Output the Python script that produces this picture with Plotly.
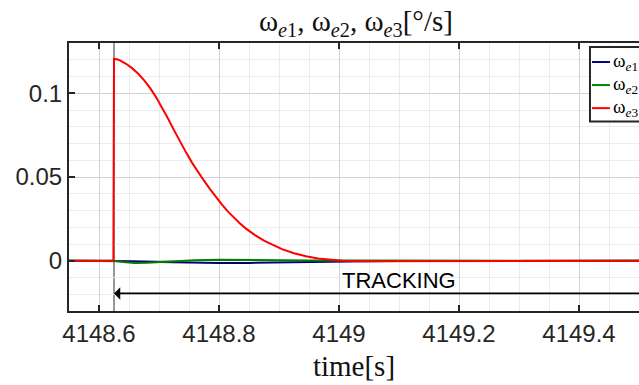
import plotly.graph_objects as go

# Time base and error angular rates [deg/s]
t_red = [4148.55, 4148.624, 4148.625, 4148.630, 4148.635, 4148.645, 4148.655, 4148.665,
         4148.675, 4148.685, 4148.695, 4148.705, 4148.715, 4148.725, 4148.735, 4148.745,
         4148.755, 4148.765, 4148.775, 4148.785, 4148.795, 4148.805, 4148.815, 4148.825,
         4148.835, 4148.845, 4148.860, 4148.875, 4148.890, 4148.905, 4148.925, 4148.945,
         4148.965, 4148.985, 4149.005, 4149.045, 4149.20, 4149.35, 4149.50]
w_e3 = [0.0, 0.0, 0.1205, 0.1203, 0.1196, 0.1176, 0.1150, 0.1118,
        0.1079, 0.1032, 0.0977, 0.0915, 0.0849, 0.0780, 0.0712, 0.0647,
        0.0586, 0.0530, 0.0478, 0.0428, 0.0380, 0.0335, 0.0293, 0.0255,
        0.0222, 0.0192, 0.0153, 0.0120, 0.0092, 0.0069, 0.0045, 0.0027,
        0.0014, 0.0005, 0.0000, -0.0003, -0.0003, -0.0001, 0.0]

t_blue = [4148.55, 4148.625, 4148.65, 4148.70, 4148.75, 4148.80, 4148.85, 4148.90,
          4148.95, 4149.00, 4149.05, 4149.10, 4149.20, 4149.30, 4149.50]
w_e1 = [0.0, 0.0, -0.0003, -0.0008, -0.0012, -0.0014, -0.0013, -0.0010,
        -0.0006, -0.0004, -0.0003, -0.0002, -0.0001, 0.0, 0.0]

t_green = [4148.55, 4148.625, 4148.64, 4148.66, 4148.68, 4148.70, 4148.73, 4148.76,
           4148.80, 4148.85, 4148.90, 4148.95, 4149.00, 4149.10, 4149.20, 4149.50]
w_e2 = [0.0, 0.0, -0.0008, -0.0013, -0.0012, -0.0008, -0.0002, 0.0003,
        0.0006, 0.0006, 0.0004, 0.0002, 0.0001, 0.0001, 0.0, 0.0]

series_names = ["ω<sub><i>e</i>1</sub>", "ω<sub><i>e</i>2</sub>", "ω<sub><i>e</i>3</sub>"]
series_colors = ["#00007f", "#008000", "#ff0000"]

x_tickvals = [4148.6, 4148.8, 4149.0, 4149.2, 4149.4]
x_ticktext = ["4148.6", "4148.8", "4149", "4149.2", "4149.4"]
y_tickvals = [0.0, 0.05, 0.1]
y_ticktext = ["0", "0.05", "0.1"]

t_track = 4148.625      # start of tracking phase
track_label = "TRACKING"

AX = "#262626"
SERIF = "Liberation Serif, Times New Roman, serif"
SANS = "Liberation Sans, Arial, sans-serif"

fig = go.Figure()
for t, w, name, col in zip([t_blue, t_green, t_red], [w_e1, w_e2, w_e3],
                           series_names, series_colors):
    fig.add_trace(go.Scatter(x=t, y=w, mode="lines", name=name,
                             line=dict(color=col, width=2), showlegend=False))

# marker of the tracking start
fig.add_shape(type="line", xref="x", yref="paper", x0=t_track, x1=t_track, y0=0, y1=1,
              line=dict(color="#333333", width=1), layer="between")

# tracking arrow and label
fig.add_annotation(x=t_track, y=-0.0195, ax=4149.6, ay=-0.0195, xref="x", yref="y",
                   axref="x", ayref="y", text="", showarrow=True, arrowhead=1,
                   arrowsize=1.3, arrowwidth=1.6, arrowcolor="black")
fig.add_annotation(x=4149.1, y=-0.0118, xref="x", yref="y", text=track_label,
                   showarrow=False, font=dict(family=SANS, size=22, color="black"))

# legend box
lx0, ltop, lbot = 0.914, 0.985, 0.707
fig.add_shape(type="rect", xref="paper", yref="paper", x0=lx0, x1=1.1, y0=lbot, y1=ltop,
              line=dict(color=AX, width=2), fillcolor="white", layer="above")
for i, (name, col) in enumerate(zip(series_names, series_colors)):
    yy = 0.929 - i * 0.086
    fig.add_shape(type="line", xref="paper", yref="paper", x0=0.9175, x1=0.949,
                  y0=yy, y1=yy, line=dict(color=col, width=2), layer="above")
    fig.add_annotation(x=0.951, y=yy, xref="paper", yref="paper", text=name,
                       showarrow=False, xanchor="left", yanchor="middle",
                       font=dict(family=SERIF, size=19, color="black"))

fig.update_layout(
    width=639, height=385,
    margin=dict(l=69, r=0, t=43, b=74),
    paper_bgcolor="white", plot_bgcolor="white",
    title=dict(text="ω<sub><i>e</i>1</sub>, ω<sub><i>e</i>2</sub>, ω<sub><i>e</i>3</sub>[°/s]",
               x=0.557, xanchor="center", y=0.945, yanchor="middle", yref="container",
               font=dict(family=SERIF, size=29, color="#111111")),
    xaxis=dict(range=[4148.55, 4149.5], tickvals=x_tickvals, ticktext=x_ticktext,
               showline=True, linecolor=AX, linewidth=2, mirror="ticks",
               ticks="inside", ticklen=6, tickwidth=2, tickcolor=AX,
               showgrid=True, gridcolor="#d2d2d2", gridwidth=1, zeroline=False,
               minor=dict(tick0=4148.6, dtick=0.05, showgrid=True, gridcolor="#ececec"),
               tickfont=dict(family=SANS, size=24, color=AX),
               title=dict(text="time[s]", standoff=10,
                          font=dict(family=SERIF, size=29, color="#111111"))),
    yaxis=dict(range=[-0.03, 0.13], tickvals=y_tickvals, ticktext=y_ticktext,
               showline=True, linecolor=AX, linewidth=2,
               ticks="inside", ticklen=6, tickwidth=2, tickcolor=AX,
               showgrid=True, gridcolor="#d2d2d2", gridwidth=1, zeroline=False,
               minor=dict(tick0=0, dtick=0.01, showgrid=True, gridcolor="#ececec"),
               tickfont=dict(family=SANS, size=24, color=AX)),
)

fig.write_html("out.html")
